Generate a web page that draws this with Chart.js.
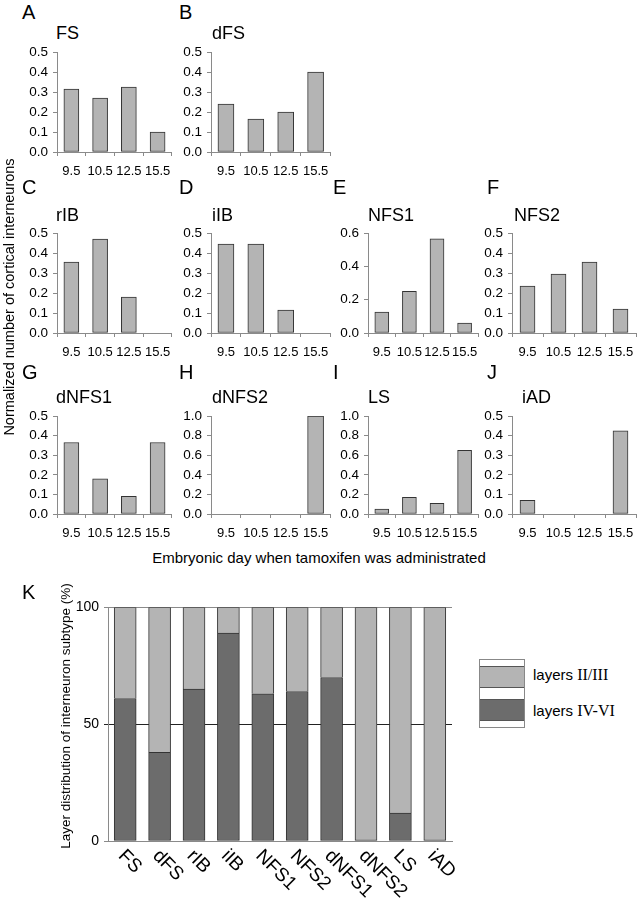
<!DOCTYPE html>
<html>
<head>
<meta charset="utf-8">
<script src="https://cdn.jsdelivr.net/npm/chart.js@4.4.1/dist/chart.umd.min.js"></script>
<style>
    html, body { margin: 0; padding: 0; background: #fff; }
    #fig { position: relative; width: 643px; height: 899px; overflow: hidden;
           font-family: "Liberation Sans", Arial, sans-serif; color: #000; }
    .cv { position: absolute; }
    .letter { position: absolute; font-size: 20px; line-height: 20px; white-space: nowrap; }
    .title { position: absolute; font-size: 18px; line-height: 18px; white-space: nowrap; }
    .axis-title { position: absolute; font-size: 14px; line-height: 16px; text-align: center; white-space: nowrap; }
    .legend-box { position: absolute; left: 479px; top: 659px; width: 44px; border: 1px solid #888; background: #fff; }
    .legend-box div { height: 20px; border-top: 1px solid #555; border-bottom: 1px solid #555; }
    .legend-label { position: absolute; left: 533px; font-size: 15px; line-height: 18px; white-space: nowrap; }
    .legend-label span { font-family: "Liberation Serif", "Times New Roman", serif; font-size: 16px; }
</style>
</head>
<body>
<div id="fig"></div>
<script>
// Tamoxifen days (x categories of panels A-J)
var days = ['9.5', '10.5', '12.5', '15.5'];

// Normalized number of cortical interneurons per subtype
var fsValues    = [0.315, 0.27, 0.325, 0.10];
var dfsValues   = [0.24, 0.165, 0.20, 0.40];
var ribValues   = [0.355, 0.47, 0.18, 0];
var iibValues   = [0.445, 0.445, 0.115, 0];
var nfs1Values  = [0.125, 0.25, 0.565, 0.06];
var nfs2Values  = [0.235, 0.295, 0.355, 0.12];
var dnfs1Values = [0.365, 0.18, 0.09, 0.365];
var dnfs2Values = [0, 0, 0, 1.0];
var lsValues    = [0.05, 0.17, 0.11, 0.65];
var iadValues   = [0.07, 0, 0, 0.425];

// Panel K: layer distribution (%)
var subtypes    = ['FS', 'dFS', 'rIB', 'iIB', 'NFS1', 'NFS2', 'dNFS1', 'dNFS2', 'LS', 'iAD'];
var deepLayers  = [61, 38, 65, 89, 63, 64, 70, 0, 12, 0];
var upperLayers = [39, 62, 35, 11, 37, 36, 30, 100, 88, 100];
var layerNames  = ['layers IV-VI', 'layers II/III'];

var FONT = '"Liberation Sans", Arial, sans-serif';
var AXIS_GRAY = '#8a8a8a';
var BAR_EDGE = '#333';
var YW = 50;   // fixed y-axis width
var XH = 34;   // fixed x-axis height

// empty bars get no border and no inflation
function edgeWidth(c) { return c.raw ? 1 : 0; }
function inflate(c) { return c.raw ? 0.33 : 0; }

// column boxes (axis x, plot width, bar thickness) and row boxes (top, bottom)
var cols = [
    { x0: 57,  w: 116, bar: 15 },
    { x0: 211, w: 120, bar: 16 },
    { x0: 368, w: 112, bar: 14 },
    { x0: 512, w: 124, bar: 15 }
];
var rows = [
    { top: 49,  bottom: 152, letterY: 2,   titleY: 24 },
    { top: 230, bottom: 333, letterY: 177, titleY: 206 },
    { top: 413, bottom: 514, letterY: 362, titleY: 388 }
];

var panels = [
    { letter: 'A', title: 'FS',    data: fsValues,    max: 0.5, step: 0.1, col: 0, row: 0, lx: 22,  tx: 56 },
    { letter: 'B', title: 'dFS',   data: dfsValues,   max: 0.5, step: 0.1, col: 1, row: 0, lx: 179, tx: 212 },
    { letter: 'C', title: 'rIB',   data: ribValues,   max: 0.5, step: 0.1, col: 0, row: 1, lx: 22,  tx: 56 },
    { letter: 'D', title: 'iIB',   data: iibValues,   max: 0.5, step: 0.1, col: 1, row: 1, lx: 179, tx: 212 },
    { letter: 'E', title: 'NFS1',  data: nfs1Values,  max: 0.6, step: 0.2, col: 2, row: 1, lx: 333, tx: 368 },
    { letter: 'F', title: 'NFS2',  data: nfs2Values,  max: 0.5, step: 0.1, col: 3, row: 1, lx: 487, tx: 514 },
    { letter: 'G', title: 'dNFS1', data: dnfs1Values, max: 0.5, step: 0.1, col: 0, row: 2, lx: 22,  tx: 56 },
    { letter: 'H', title: 'dNFS2', data: dnfs2Values, max: 1.0, step: 0.2, col: 1, row: 2, lx: 179, tx: 212 },
    { letter: 'I', title: 'LS',    data: lsValues,    max: 1.0, step: 0.2, col: 2, row: 2, lx: 333, tx: 368 },
    { letter: 'J', title: 'iAD',   data: iadValues,   max: 0.5, step: 0.1, col: 3, row: 2, lx: 487, tx: 522 }
];

var fig = document.getElementById('fig');

function addText(cls, text, left, top, extra) {
    var d = document.createElement('div');
    d.className = cls;
    d.innerHTML = text;
    d.style.left = left + 'px';
    d.style.top = top + 'px';
    if (extra) { for (var k in extra) d.style[k] = extra[k]; }
    fig.appendChild(d);
    return d;
}

function addCanvas(left, top, w, h) {
    var c = document.createElement('canvas');
    c.className = 'cv';
    c.width = w; c.height = h;
    c.style.left = left + 'px';
    c.style.top = top + 'px';
    c.style.width = w + 'px';
    c.style.height = h + 'px';
    fig.appendChild(c);
    return c;
}

panels.forEach(function(p) {
    var col = cols[p.col], row = rows[p.row];
    addText('letter', p.letter, p.lx, row.letterY);
    addText('title', p.title, p.tx, row.titleY);

    var w = col.w + YW + 6;
    var h = row.bottom - row.top + 10 + XH;
    var cv = addCanvas(col.x0 - YW, row.top - 10, w, h);

    new Chart(cv.getContext('2d'), {
        type: 'bar',
        data: {
            labels: days,
            datasets: [{
                data: p.data,
                backgroundColor: '#b4b4b4',
                borderColor: BAR_EDGE,
                borderWidth: edgeWidth,
                borderSkipped: false,
                inflateAmount: inflate,
                barThickness: col.bar
            }]
        },
        options: {
            responsive: false,
            animation: false,
            layout: { padding: { top: 10, right: 6, left: 0, bottom: 0 } },
            plugins: { legend: { display: false }, tooltip: { enabled: false } },
            scales: {
                x: {
                    afterFit: function(s) { s.height = XH; },
                    border: { color: AXIS_GRAY, width: 1 },
                    grid: { offset: true, drawOnChartArea: false, tickLength: 4, color: AXIS_GRAY },
                    ticks: { font: { family: FONT, size: 13 }, color: '#000', padding: 8, maxRotation: 0, autoSkip: false }
                },
                y: {
                    min: 0,
                    max: p.max,
                    afterFit: function(s) { s.width = YW; },
                    border: { color: AXIS_GRAY, width: 1 },
                    grid: { drawOnChartArea: false, tickLength: 4, color: AXIS_GRAY },
                    ticks: {
                        stepSize: p.step,
                        autoSkip: false,
                        font: { family: FONT, size: 13.5 },
                        color: '#000',
                        padding: 5,
                        callback: function(v) { return Number(v).toFixed(1); }
                    }
                }
            }
        }
    });
});

// shared axis titles for A-J
addText('axis-title', 'Normalized number of cortical interneurons', 9 - 160, 297 - 8,
        { width: '320px', transform: 'rotate(-90deg)', fontSize: '14.5px' });
addText('axis-title', 'Embryonic day when tamoxifen was administrated', 19, 550,
        { width: '600px', fontSize: '15px' });

// ---- Panel K ----
addText('letter', 'K', 22, 582);
addText('axis-title', 'Layer distribution of interneuron subtype (%)', 66 - 160, 716 - 8,
        { width: '320px', transform: 'rotate(-90deg)', fontSize: '13.5px' });

var kLeft = 108, kWidth = 344, kTop = 604, kBottom = 841, kXH = 60;
var kCanvas = addCanvas(kLeft - YW, kTop - 10, kWidth + YW + 6, kBottom - kTop + 10 + kXH);

// rotated subtype names under the K bars (clockwise, reading down-right)
var slantedLabels = {
    id: 'slantedLabels',
    afterDraw: function(chart) {
        var xs = chart.scales.x;
        var ctx = chart.ctx;
        ctx.save();
        ctx.font = '19px ' + FONT;
        ctx.fillStyle = '#000';
        ctx.textAlign = 'left';
        ctx.textBaseline = 'middle';
        chart.data.labels.forEach(function(lab, i) {
            var x = xs.getPixelForTick(i);
            ctx.save();
            ctx.translate(x - 4, chart.chartArea.bottom + 12);
            ctx.rotate(Math.PI / 4);
            ctx.fillText(lab, 0, 0);
            ctx.restore();
        });
        ctx.restore();
    }
};

new Chart(kCanvas.getContext('2d'), {
    type: 'bar',
    data: {
        labels: subtypes,
        datasets: [
            {
                label: layerNames[0],
                data: deepLayers,
                backgroundColor: '#6c6c6c',
                borderColor: BAR_EDGE,
                borderWidth: edgeWidth,
                borderSkipped: false,
                inflateAmount: inflate,
                barThickness: 22
            },
            {
                label: layerNames[1],
                data: upperLayers,
                backgroundColor: '#b4b4b4',
                borderColor: BAR_EDGE,
                borderWidth: edgeWidth,
                borderSkipped: function(c) { return deepLayers[c.dataIndex] ? 'bottom' : false; },
                inflateAmount: inflate,
                barThickness: 22
            }
        ]
    },
    options: {
        responsive: false,
        animation: false,
        layout: { padding: { top: 10, right: 6, left: 0, bottom: 0 } },
        plugins: { legend: { display: false }, tooltip: { enabled: false } },
        scales: {
            x: {
                stacked: true,
                afterFit: function(s) { s.height = kXH; },
                border: { color: AXIS_GRAY, width: 1 },
                grid: { display: false },
                ticks: { display: false }
            },
            y: {
                stacked: true,
                min: 0,
                max: 100,
                afterFit: function(s) { s.width = YW; },
                border: { color: AXIS_GRAY, width: 1 },
                grid: {
                    tickLength: 4,
                    color: function(c) { return c.tick && c.tick.value === 50 ? '#222' : AXIS_GRAY; }
                },
                ticks: { stepSize: 50, font: { family: FONT, size: 14 }, color: '#000', padding: 5 }
            }
        }
    },
    plugins: [slantedLabels]
});

// legend for K
var box = document.createElement('div');
box.className = 'legend-box';
box.innerHTML = '<div style="height:6px;border:none"></div>' +
    '<div style="background:#b4b4b4"></div>' +
    '<div style="height:11px;border:none"></div>' +
    '<div style="background:#6c6c6c"></div>' +
    '<div style="height:6px;border:none"></div>';
fig.appendChild(box);
addText('legend-label', 'layers <span>II/III</span>', 533, 666);
addText('legend-label', 'layers <span>IV-VI</span>', 533, 702);
</script>
</body>
</html>
